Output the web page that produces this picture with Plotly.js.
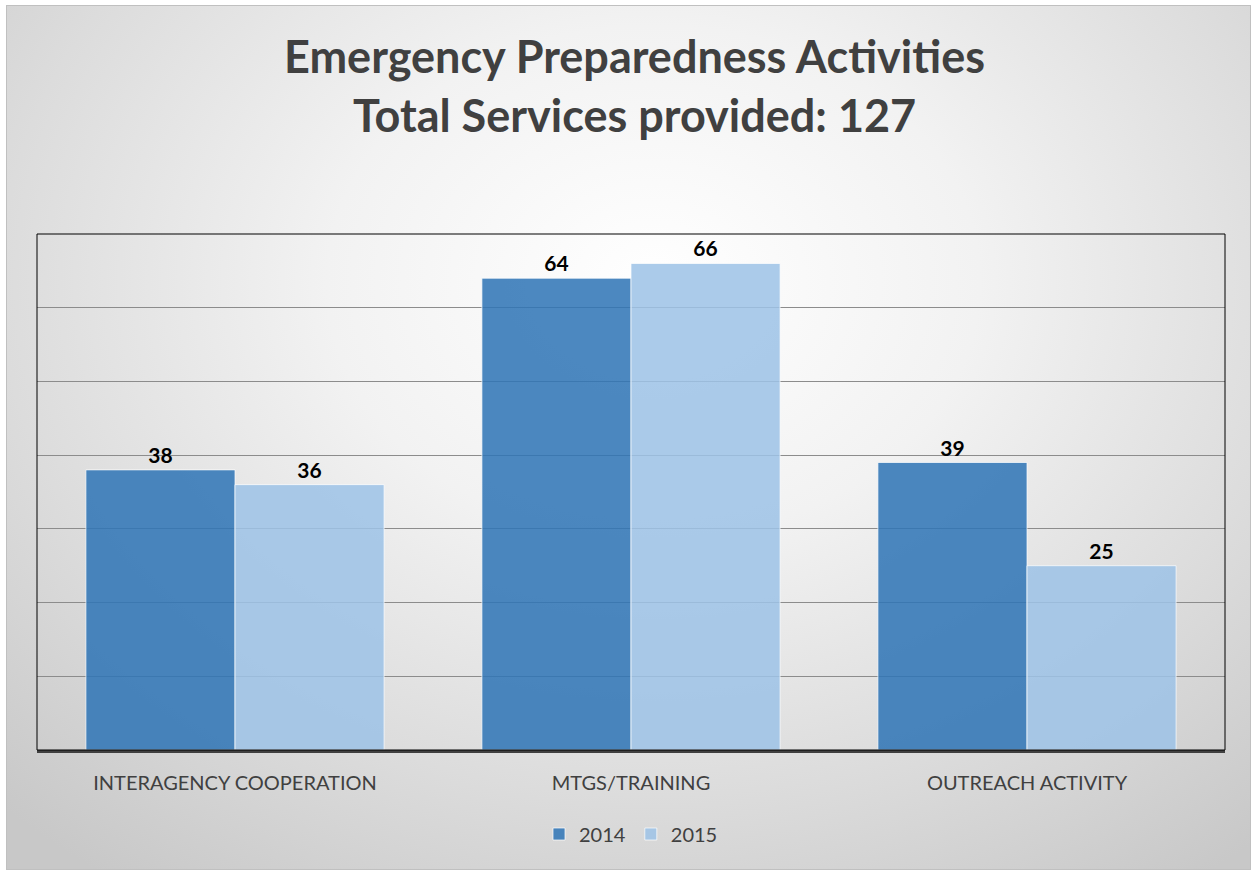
<!DOCTYPE html>
<html>
<head>
<meta charset="utf-8">
<script src="https://cdn.plot.ly/plotly-3.0.1.min.js"></script>
<style>
  html, body { margin: 0; padding: 0; background: #ffffff; }
  #wrap {
    position: relative; width: 1252px; height: 871px; overflow: hidden;
    background: #ffffff;
  }
  #bg {
    position: absolute; left: 6px; top: 5px; width: 1243px; height: 863px;
    border: 1px solid #c0c0c0;
    background: radial-gradient(ellipse 75% 85% at 52% 32%, #ffffff 0%, #f2f2f2 35%, #dcdcdc 70%, #c8c8c8 100%);
  }
  #chart { position: absolute; left: 0; top: 0; width: 1252px; height: 871px; }
</style>
</head>
<body>
<div id="wrap">
  <div id="bg"></div>
  <div id="chart"></div>
</div>
<script>
const categories = ["INTERAGENCY COOPERATION", "MTGS/TRAINING", "OUTREACH ACTIVITY"];
const values2014 = [38, 64, 39];
const values2015 = [36, 66, 25];
const seriesNames = ["2014", "2015"];

const labelFont = { family: "Lato, 'Open Sans', sans-serif", size: 21, color: "#000000", weight: 700 };

const traces = [
  {
    type: "bar", name: seriesNames[0], x: categories, y: values2014,
    marker: { color: "rgba(46,117,182,0.86)", line: { color: "rgba(255,255,255,0.7)", width: 1 } },
    text: values2014.map(String), textposition: "outside", textfont: labelFont,
    cliponaxis: false, hoverinfo: "x+y"
  },
  {
    type: "bar", name: seriesNames[1], x: categories, y: values2015,
    marker: { color: "rgba(157,195,230,0.86)", line: { color: "rgba(255,255,255,0.7)", width: 1 } },
    text: values2015.map(String), textposition: "outside", textfont: labelFont,
    cliponaxis: false, hoverinfo: "x+y"
  }
];

const layout = {
  width: 1252, height: 871,
  paper_bgcolor: "rgba(0,0,0,0)",
  plot_bgcolor: "rgba(0,0,0,0)",
  margin: { l: 37, r: 27, t: 234, b: 121, pad: 0 },
  title: {
    text: "<b>Emergency Preparedness Activities<br>Total Services provided: 127</b>",
    font: { family: "Lato, 'Open Sans', sans-serif", size: 45, color: "#404040" },
    x: 0.503, xanchor: "center", xref: "paper",
    y: 0.916, yanchor: "middle", yref: "container"
  },
  barmode: "group",
  bargap: 0.247,
  bargroupgap: 0,
  showlegend: true,
  legend: {
    orientation: "h", x: 0.5, xanchor: "center", xref: "paper",
    y: 37 / 871, yanchor: "middle", yref: "container",
    font: { family: "Lato, 'Open Sans', sans-serif", size: 20, color: "#404040" },
    bgcolor: "rgba(0,0,0,0)", itemwidth: 30, traceorder: "normal"
  },
  xaxis: {
    type: "category",
    showgrid: false,
    showline: true, linecolor: "#404040", linewidth: 3,
    ticks: "",
    tickfont: { family: "Lato, 'Open Sans', sans-serif", size: 20, color: "#404040" },
    ticklabelstandoff: 13
  },
  yaxis: {
    range: [0, 70], dtick: 10, tick0: 0,
    showgrid: true, gridcolor: "#8c8c8c", gridwidth: 1,
    showticklabels: false, ticks: "",
    zeroline: false, showline: false
  },
  shapes: [
    { type: "rect", xref: "paper", yref: "paper", x0: 0, x1: 1, y0: 0, y1: 1,
      line: { color: "#000000", width: 1 }, fillcolor: "rgba(0,0,0,0)", layer: "above" }
  ]
};

Plotly.newPlot("chart", traces, layout, { displayModeBar: false, staticPlot: true });
</script>
</body>
</html>
